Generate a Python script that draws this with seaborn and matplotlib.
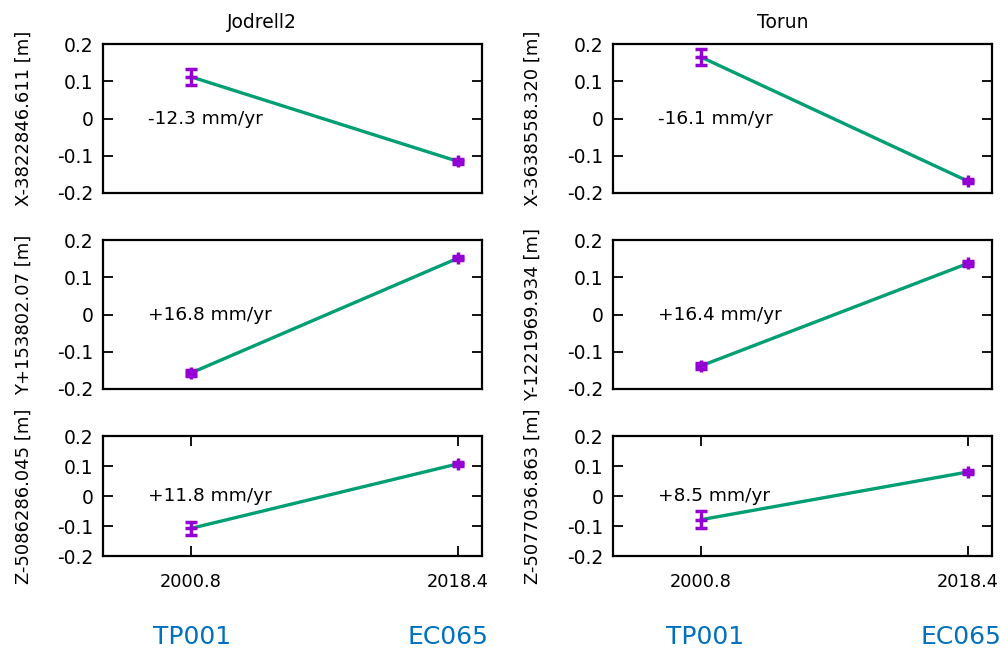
import matplotlib
matplotlib.use('Agg')
import matplotlib.pyplot as plt
import numpy as np
import pandas as pd
import seaborn as sns

# epochs of the two observations (TP001, EC065)
epochs = [2000.8, 2018.4]
sessions = ['TP001', 'EC065']
stations = ['Jodrell2', 'Torun']

# offsets [m] and formal errors per station and component
jodrell_x = [0.112, -0.115]
jodrell_x_err = [0.021, 0.006]
jodrell_y = [-0.157, 0.151]
jodrell_y_err = [0.008, 0.005]
jodrell_z = [-0.108, 0.107]
jodrell_z_err = [0.022, 0.006]

torun_x = [0.165, -0.168]
torun_x_err = [0.022, 0.006]
torun_y = [-0.138, 0.137]
torun_y_err = [0.009, 0.006]
torun_z = [-0.079, 0.080]
torun_z_err = [0.028, 0.006]

jodrell_labels = ['X-3822846.611 [m]', 'Y+153802.07 [m]', 'Z-5086286.045 [m]']
torun_labels = ['X-3638558.320 [m]', 'Y-1221969.934 [m]', 'Z-5077036.863 [m]']
jodrell_rates = ['-12.3 mm/yr', '+16.8 mm/yr', '+11.8 mm/yr']
torun_rates = ['-16.1 mm/yr', '+16.4 mm/yr', '+8.5 mm/yr']

yticks = [-0.2, -0.1, 0, 0.1, 0.2]
ytick_labels = ['-0.2', '-0.1', '0', '0.1', '0.2']

sns.set_style('white')
plt.rcParams['font.family'] = ['DejaVu Sans']
plt.rcParams['axes.unicode_minus'] = False
for key in ['text.color', 'axes.labelcolor', 'xtick.color', 'ytick.color']:
    plt.rcParams[key] = 'black'

GREEN = '#009E73'
PURPLE = '#9400D3'
BLUE = '#0070C0'

W, H = 1000, 649
fig = plt.figure(figsize=(W / 100, H / 100), dpi=100)

col_x = [(103, 482), (613, 992)]
row_y = [(44, 193), (240, 389), (436, 556)]

columns = [
    (stations[0], [jodrell_x, jodrell_y, jodrell_z],
     [jodrell_x_err, jodrell_y_err, jodrell_z_err], jodrell_labels, jodrell_rates),
    (stations[1], [torun_x, torun_y, torun_z],
     [torun_x_err, torun_y_err, torun_z_err], torun_labels, torun_rates),
]
title_x = [262, 783]
ylabel_x = [24, 533]

for c, (name, values, errors, labels, rates) in enumerate(columns):
    x0, x1 = col_x[c]
    for r in range(3):
        y0, y1 = row_y[r]
        ax = fig.add_axes([x0 / W, 1 - y1 / H, (x1 - x0) / W, (y1 - y0) / H])
        df = pd.DataFrame({'epoch': epochs, 'offset': values[r]})
        sns.lineplot(data=df, x='epoch', y='offset', color=GREEN, lw=2.4, ax=ax)
        ax.errorbar(epochs, values[r], yerr=errors[r], fmt='+', color=PURPLE,
                    ms=8, mew=2.5, elinewidth=2, capsize=4.5, capthick=2, zorder=3)
        ax.text(1998.0, 0, rates[r], ha='left', va='center', fontsize=13.3)

        ax.set_xlim(1995, 2020)
        ax.set_ylim(-0.2, 0.2)
        ax.set_yticks(yticks)
        ax.set_yticklabels(ytick_labels)
        ax.set_xlabel('')
        ax.set_ylabel('')
        ax.tick_params(axis='y', direction='in', length=7, width=1.3,
                       left=True, right=True, labelsize=13.5, pad=7)
        if r == 2:
            ax.set_xticks(epochs)
            ax.set_xticklabels([f'{e:.1f}' for e in epochs])
            ax.tick_params(axis='x', direction='in', length=7, width=1.3,
                           bottom=True, top=True, labelsize=12.8, pad=12)
        else:
            ax.set_xticks([])
        for s in ax.spines.values():
            s.set_visible(True)
            s.set_linewidth(1.6)
            s.set_color('black')

        fig.text(ylabel_x[c] / W, 1 - (y0 + y1) / 2 / H, labels[r], rotation=90,
                 ha='center', va='center', fontsize=13)

    fig.text(title_x[c] / W, 1 - 22 / H, name, ha='center', va='center', fontsize=13.5)

label_pos = [(192, 448), (705, 961)]
for c in range(2):
    for s, px in zip(sessions, label_pos[c]):
        fig.text(px / W, 1 - 637 / H, s, ha='center', va='center',
                 fontsize=18, color=BLUE)

fig.savefig('out.png', dpi=100)
